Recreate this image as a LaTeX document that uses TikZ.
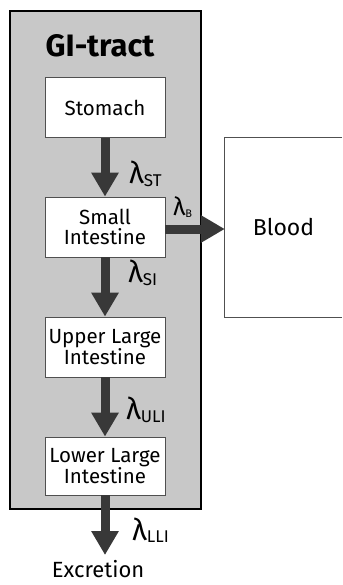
\documentclass[tikz,border=0pt]{standalone}
\usepackage{fontspec}
\setmainfont{Fira Sans}
\usetikzlibrary{arrows.meta}
\definecolor{panelgray}{HTML}{C8C8C8}
\definecolor{arrowgray}{HTML}{383838}
\definecolor{edgegray}{HTML}{505050}
\newcommand{\lamlab}[2]{{\fontsize{#2}{#2}\selectfont λ}\raisebox{-0.25em}{\fontsize{17}{17}\selectfont #1}}
\tikzset{
  organ/.style={draw=edgegray, line width=0.8pt, fill=white, minimum width=120pt, minimum height=60pt,
    align=center, inner sep=0pt, font=\fontsize{20.5}{20}\selectfont},
  bigarrow/.style={draw=arrowgray, line width=9pt, -{Triangle[length=24pt,width=26pt]}},
  lamnode/.style={anchor=west, inner sep=0pt, text=black}
}
\begin{document}
\begin{tikzpicture}[x=1pt,y=-1pt]
\useasboundingbox (0,0) rectangle (342,585);
\fill[white] (0,0) rectangle (342,585);
% GI panel
\node[draw=black, line width=1.5pt, fill=panelgray, minimum width=191pt, minimum height=498pt, inner sep=0pt] (gi) at (105.5,260) {};
\node[font=\bfseries\fontsize{31}{31}\selectfont, inner sep=0pt] (title) at (100,46) {GI-tract};
% organs
\node[organ] (st) at (105,107.5) {Stomach};
\node[organ] (si) at (105,227) {Small\\Intestine};
\node[organ] (uli) at (105,347) {Upper Large\\Intestine};
\node[organ, minimum height=58pt] (lli) at (105,466) {Lower Large\\Intestine};
% blood
\node[minimum width=117pt, minimum height=179pt, inner sep=0pt, font=\fontsize{23}{23}\selectfont] (blood) at (283.5,227.5) {Blood};
\draw[edgegray, line width=0.8pt] (blood.north east) -- (blood.north west) -- (blood.south west) -- (blood.south east);
% excretion
\node[font=\fontsize{22}{22}\selectfont, inner sep=0pt] (exc) at (98,569) {Excretion};
\coordinate (excend) at (105,555);
% arrows
\draw[bigarrow] (st.south) -- (si.north);
\draw[bigarrow] (si.south) -- (uli.north);
\draw[bigarrow] (uli.south) -- (lli.north);
\draw[bigarrow] (lli.south) -- (excend);
\draw[bigarrow] (si.east |- 0,229) -- (blood.west |- 0,229);
% labels
\node[lamnode] (lst) at (129,174) {\lamlab{ST}{30}};
\node[lamnode] (lsi) at (128,273) {\lamlab{SI}{30}};
\node[lamnode] (luli) at (126,410) {\lamlab{ULI}{30}};
\node[lamnode] (llli) at (132,530) {\lamlab{LLI}{30}};
\node[lamnode] (lb) at (173,207) {{\fontsize{25}{25}\selectfont λ}\raisebox{-0.2em}{\fontsize{11}{11}\selectfont B}};
\end{tikzpicture}
\end{document}
